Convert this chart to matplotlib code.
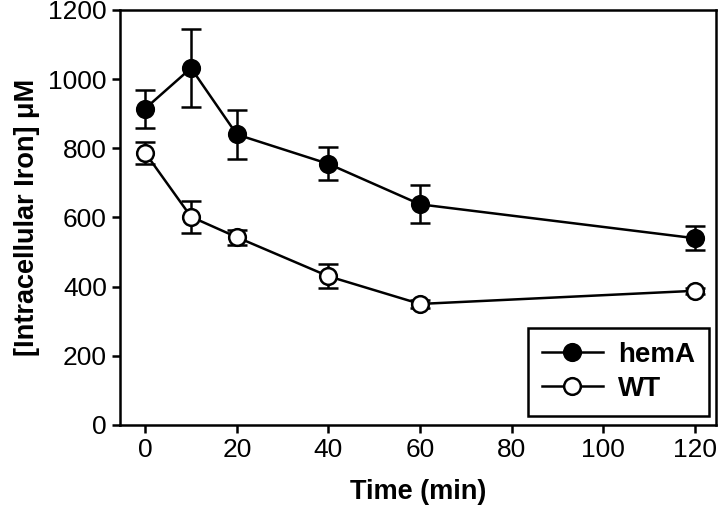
import numpy as np
import matplotlib.pyplot as plt

plt.rcParams['font.family'] = ['Liberation Sans', 'DejaVu Sans']

# time points (min)
time = [0, 10, 20, 40, 60, 120]

# intracellular iron (uM) with error bars
hemA = [915, 1032, 840, 755, 638, 540]
hemA_err = [55, 112, 70, 48, 55, 35]
wt = [787, 602, 543, 430, 350, 388]
wt_err = [32, 47, 22, 35, 12, 8]

fig = plt.figure(figsize=(7.2, 5.25), dpi=100)
ax = fig.add_axes([0.1667, 0.1905, 0.8277, 0.7905])

ax.errorbar(time, hemA, yerr=hemA_err, color='black', marker='o', markersize=12,
            markerfacecolor='black', markeredgecolor='black', markeredgewidth=1.8,
            linewidth=1.8, elinewidth=1.8, capsize=7, capthick=1.8, label='hemA')
ax.errorbar(time, wt, yerr=wt_err, color='black', marker='o', markersize=12,
            markerfacecolor='white', markeredgecolor='black', markeredgewidth=1.8,
            linewidth=1.8, elinewidth=1.8, capsize=7, capthick=1.8, label='WT')

ax.set_xlim(-5.5, 124.6)
ax.set_ylim(0, 1200)
ax.set_xticks([0, 20, 40, 60, 80, 100, 120])
ax.set_yticks([0, 200, 400, 600, 800, 1000, 1200])
ax.tick_params(direction='out', length=6, width=1.8, labelsize=19, top=False, right=False)
for s in ax.spines.values():
    s.set_linewidth(1.8)

ax.set_xlabel('Time (min)', fontsize=19.5, fontweight='bold', labelpad=12)
ax.set_ylabel('[Intracellular Iron] \u03bcM', fontsize=19.5, fontweight='bold', labelpad=6)

handles, labels = ax.get_legend_handles_labels()
handles = [h[0] for h in handles]
leg = ax.legend(handles, labels, loc='lower right', prop={'weight': 'bold', 'size': 20},
                fancybox=False, edgecolor='black', framealpha=1, handlelength=2.2,
                borderpad=0.5, labelspacing=0.3, handletextpad=0.55,
                borderaxespad=0, bbox_to_anchor=(0.988, 0.022))
leg.get_frame().set_linewidth(1.8)

fig.savefig('out.png', dpi=100)
